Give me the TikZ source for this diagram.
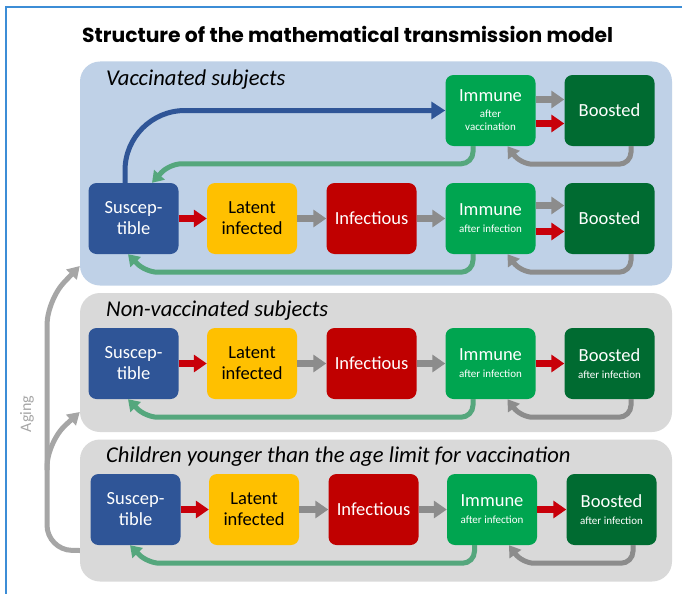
\documentclass[tikz,border=0pt]{standalone}
\usepackage{graphicx}
\usepackage{fontspec}
\setmainfont{Carlito}
\newfontfamily\titlefont{Poppins}
\usetikzlibrary{arrows.meta}
\definecolor{frameblue}{HTML}{3C8DD6}
\definecolor{panelblue}{HTML}{BFD1E7}
\definecolor{panelgrey}{HTML}{D9D9D9}
\definecolor{susc}{HTML}{2F5597}
\definecolor{latent}{HTML}{FFC000}
\definecolor{infect}{HTML}{C00000}
\definecolor{immune}{HTML}{00A550}
\definecolor{boost}{HTML}{006B31}
\definecolor{garrow}{HTML}{55A77D}
\definecolor{grarrow}{HTML}{8C8C8C}
\definecolor{rarrow}{HTML}{C8000A}
\definecolor{agegrey}{HTML}{A6A6A6}
\begin{document}
\begin{tikzpicture}[x=1pt,y=-1pt,
  panel/.style={rounded corners=20pt, minimum width=592pt, inner sep=0pt, draw=none},
  box/.style={rounded corners=8pt, minimum width=90pt, minimum height=71pt, inner sep=0pt,
    text=white, align=center, font=\fontsize{18.5}{21}\selectfont},
  label/.style={anchor=base west, inner sep=0pt, font=\itshape\fontsize{22.6}{24}\selectfont},
  redarr/.style={draw=rarrow, line width=7pt, -{Triangle[width=17pt,length=13pt]}},
  greyarr/.style={draw=grarrow, line width=7pt, -{Triangle[width=17pt,length=13pt]}},
  gloop/.style={draw=garrow, line width=5pt, rounded corners=12pt, -{Triangle[width=14pt,length=11pt]}},
  greyloop/.style={draw=grarrow, line width=5pt, rounded corners=12pt, -{Triangle[width=14pt,length=11pt]}},
  bluearc/.style={draw=susc, line width=5pt, rounded corners=60pt, -{Triangle[width=17pt,length=14pt]}},
  aging/.style={draw=agegrey, line width=5pt, rounded corners=25pt, -{Triangle[width=14pt,length=12pt]}}
]
\useasboundingbox (0,0) rectangle (682,594);
\fill[white] (0,0) rectangle (682,594);
\draw[frameblue, line width=2pt] (682,7) -| (6,594);

\node[anchor=base west, inner sep=0pt] (title) at (82,42)
  {\resizebox{531pt}{!}{\titlefont\bfseries Structure of the mathematical transmission model}};

% panels
\node[panel, fill=panelblue, minimum height=224pt] (pv) at (376,173.5) {};
\node[panel, fill=panelgrey, minimum height=139pt] (pn) at (376,362.5) {};
\node[panel, fill=panelgrey, minimum height=142pt] (pc) at (376,510.5) {};

\node[label] (tv) at (106,85) {Vaccinated subjects};
\node[label] (tn) at (106,316) {Non-vaccinated subjects};
\node[label] (tc) at (106,462) {Children younger than the age limit for vaccination};

% vaccinated
\node[box, fill=susc] (vS) at (133.5,218.5) {Suscep-\\tible};
\node[box, fill=latent, text=black] (vL) at (252,218.5) {Latent\\infected};
\node[box, fill=infect] (vI) at (371.5,218.5) {Infectious};
\node[box, fill=immune] (vR) at (490.5,218.5) {Immune\\[-4pt]{\fontsize{11}{12}\selectfont after infection}};
\node[box, fill=boost] (vB) at (609.5,218.5) {Boosted};
\node[box, fill=immune] (vRv) at (490.5,110.5) {Immune\\[-5pt]{\fontsize{11}{12}\selectfont after}\\[-8pt]{\fontsize{11}{12}\selectfont vaccination}};
\node[box, fill=boost] (vBv) at (609.5,110.5) {Boosted};

% non-vaccinated
\node[box, fill=susc] (nS) at (133.5,363.5) {Suscep-\\tible};
\node[box, fill=latent, text=black] (nL) at (252,363.5) {Latent\\infected};
\node[box, fill=infect] (nI) at (371.5,363.5) {Infectious};
\node[box, fill=immune] (nR) at (490.5,363.5) {Immune\\[-4pt]{\fontsize{11}{12}\selectfont after infection}};
\node[box, fill=boost] (nB) at (609.5,363.5) {Boosted\\[-4pt]{\fontsize{11}{12}\selectfont after infection}};

% children
\node[box, fill=susc] (cS) at (135.5,509.5) {Suscep-\\tible};
\node[box, fill=latent, text=black] (cL) at (254,509.5) {Latent\\infected};
\node[box, fill=infect] (cI) at (373.5,509.5) {Infectious};
\node[box, fill=immune] (cR) at (492,509.5) {Immune\\[-4pt]{\fontsize{11}{12}\selectfont after infection}};
\node[box, fill=boost] (cB) at (611.5,509.5) {Boosted\\[-4pt]{\fontsize{11}{12}\selectfont after infection}};

% straight arrows
\draw[redarr] (vS.east) -- (vL.west);
\draw[greyarr] (vL.east) -- (vI.west);
\draw[greyarr] (vI.east) -- (vR.west);
\draw[greyarr] ([yshift=13pt]vR.east) -- ([yshift=13pt]vB.west);
\draw[redarr] ([yshift=-13pt]vR.east) -- ([yshift=-13pt]vB.west);
\draw[greyarr] ([yshift=11pt]vRv.east) -- ([yshift=11pt]vBv.west);
\draw[redarr] ([yshift=-13pt]vRv.east) -- ([yshift=-13pt]vBv.west);

\draw[redarr] (nS.east) -- (nL.west);
\draw[greyarr] (nL.east) -- (nI.west);
\draw[greyarr] (nI.east) -- (nR.west);
\draw[redarr] (nR.east) -- (nB.west);

\draw[redarr] (cS.east) -- (cL.west);
\draw[greyarr] (cL.east) -- (cI.west);
\draw[greyarr] (cI.east) -- (cR.west);
\draw[redarr] (cR.east) -- (cB.west);

% vaccination arc
\draw[bluearc] ([xshift=-8.5pt]vS.north) |- (vRv.west);

% green loops back to susceptible
\draw[gloop] ([xshift=-17.5pt]vRv.south) |- ([shift={(36,-19)}]vS.north) -- ([xshift=18.5pt]vS.north);
\draw[gloop] ([xshift=-17.5pt]vR.south) |- ([shift={(12,18)}]vS.south) -- ([xshift=-5.5pt]vS.south);
\draw[gloop] ([xshift=-17.5pt]nR.south) |- ([shift={(12,18)}]nS.south) -- ([xshift=-5.5pt]nS.south);
\draw[gloop] ([xshift=-17.5pt]cR.south) |- ([shift={(12,18)}]cS.south) -- ([xshift=-5.5pt]cS.south);

% grey loops boosted -> immune
\draw[greyloop] ([xshift=21.5pt]vBv.south) |- ([shift={(30,18)}]vRv.south) -- ([xshift=17pt]vRv.south);
\draw[greyloop] ([xshift=21.5pt]vB.south) |- ([shift={(30,18)}]vR.south) -- ([xshift=17pt]vR.south);
\draw[greyloop] ([xshift=21.5pt]nB.south) |- ([shift={(30,18)}]nR.south) -- ([xshift=17pt]nR.south);
\draw[greyloop] ([xshift=21.5pt]cB.south) |- ([shift={(30,18)}]cR.south) -- ([xshift=17pt]cR.south);

% aging
\coordinate (agB) at (47,550);
\coordinate (agT) at (47,300);
\coordinate (agM0) at (47,470);
\coordinate (agM) at (47,442);
\draw[aging] ([yshift=-40pt]pc.west) -- (agB) -- (agT) -- ([yshift=-92.5pt]pv.west);
\draw[aging] (agM0) -- (agM) -- ([yshift=-49.5pt]pn.west);
\node[rotate=90, text=agegrey, inner sep=0pt, font=\fontsize{16}{18}\selectfont] (agtext) at (27,414) {Aging};
\end{tikzpicture}
\end{document}
